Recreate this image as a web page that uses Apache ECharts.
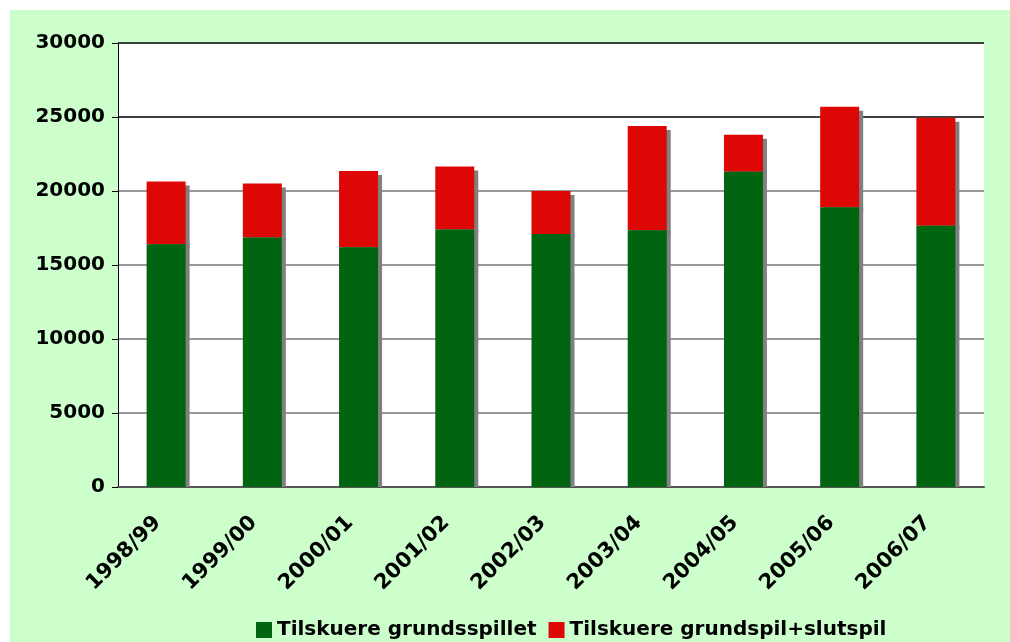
<!DOCTYPE html>
<html>
<head>
<meta charset="utf-8">
<script src="https://cdn.jsdelivr.net/npm/echarts@6/dist/echarts.min.js"></script>
<style>
  body { margin: 0; background: #fff; }
  #wrap { position: relative; width: 1010px; height: 642px; background: #fff; }
  #chart { position: absolute; left: 10px; top: 10px; width: 1000px; height: 632px; background: #CCFFCC; }
</style>
</head>
<body>
<div id="wrap"><div id="chart"></div></div>
<script>
// saesoner
const seasons = ['1998/99', '1999/00', '2000/01', '2001/02', '2002/03', '2003/04', '2004/05', '2005/06', '2006/07'];
// tilskuere grundspil (gron del)
const grundspil = [16400, 16850, 16200, 17400, 17100, 17350, 21300, 18900, 17650];
// ekstra ved slutspil (rod del, stables ovenpaa)
const slutspil = [4250, 3650, 5150, 4250, 2900, 7050, 2500, 6800, 7300];
const yTicks = [0, 5000, 10000, 15000, 20000, 25000, 30000];

const font = 'DejaVu Sans';

let myChart = echarts.init(document.getElementById('chart'));
let option = {
  animation: false,
  grid: {
    left: 108, right: 26, top: 33, bottom: 155,
    show: true, backgroundColor: '#fff', borderWidth: 0
  },
  legend: {
    left: 246, top: 610, padding: 0,
    itemWidth: 16, itemHeight: 16, itemGap: 12,
    icon: 'rect',
    textStyle: { fontFamily: font, fontWeight: 'bold', fontSize: 20, color: '#000' },
    data: ['Tilskuere grundsspillet', 'Tilskuere grundspil+slutspil']
  },
  xAxis: {
    type: 'category',
    data: seasons,
    axisLine: { lineStyle: { color: '#555', width: 2 } },
    axisTick: { length: 6, lineStyle: { color: '#555' } },
    axisLabel: {
      rotate: 45, margin: 24, interval: 0, padding: [0, 12, 0, 0],
      fontFamily: font, fontWeight: 'bold', fontSize: 21, color: '#000'
    }
  },
  yAxis: {
    type: 'value',
    min: yTicks[0], max: yTicks[yTicks.length - 1], interval: 5000,
    axisLine: { show: true, lineStyle: { color: '#000', width: 1 } },
    axisTick: { show: true, length: 6, lineStyle: { color: '#000' } },
    axisLabel: {
      margin: 13, fontFamily: font, fontWeight: 'bold', fontSize: 20, color: '#000',
      formatter: v => String(v)
    },
    splitLine: {
      lineStyle: {
        color: ['#777', '#777', '#777', '#777', '#777', '#000', '#000'],
        width: 1.5
      }
    }
  },
  series: [
    {
      name: 'Tilskuere grundsspillet',
      type: 'bar',
      stack: 'tot',
      barWidth: 39,
      z: 3,
      data: grundspil,
      // kun skygge mod hojre, saa den ikke gaar under aksen
      itemStyle: { color: '#006411', shadowColor: '#808080', shadowBlur: 0, shadowOffsetX: 4, shadowOffsetY: 0 }
    },
    {
      name: 'Tilskuere grundspil+slutspil',
      type: 'bar',
      stack: 'tot',
      barWidth: 39,
      z: 2,
      data: slutspil,
      itemStyle: { color: '#DD0806', shadowColor: '#808080', shadowBlur: 0, shadowOffsetX: 4, shadowOffsetY: 4 }
    }
  ]
};
myChart.setOption(option);
</script>
</body>
</html>
